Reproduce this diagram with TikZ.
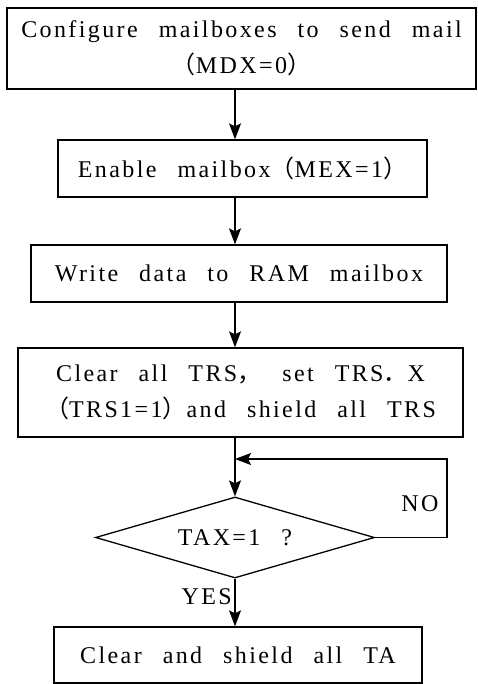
\documentclass[tikz,border=0pt]{standalone}
\usepackage{fontspec}
\setmainfont{Liberation Serif}[LetterSpace=10,WordSpace=2.5]
\newfontfamily\cjk{Noto Sans CJK SC}
\usetikzlibrary{calc}
\usetikzlibrary{arrows.meta}
\usetikzlibrary{shapes.geometric}

\newcommand{\fw}[1]{{\cjk #1}}

\tikzset{
  flowbox/.style={draw, line width=1.3pt, inner sep=0pt, align=center,
    font=\fontsize{24}{36}\selectfont},
  flowarrow/.style={line width=1.3pt, -{Stealth[length=16pt,width=12pt,inset=3pt]}},
  tag/.style={inner sep=0pt, font=\fontsize{24}{28}\selectfont}
}

\begin{document}
\begin{tikzpicture}[x=1pt, y=-1pt]
    \useasboundingbox (0,0) rectangle (477,684);

    % Define the column the arrows run along
    \coordinate (spine) at (235, 0);
    \coordinate (loopcorner) at (447, 459);

    % Draw the steps
    \node[flowbox, minimum width=469, minimum height=81] (config) at (241.5, 48.5)
      {Configure mailboxes to send mail\\\fw{（}MDX=0\fw{）}};
    \node[flowbox, minimum width=369, minimum height=57] (enable) at (242.5, 168.5)
      {Enable mailbox\fw{（}MEX=1\fw{）}};
    \node[flowbox, minimum width=416, minimum height=57] (write) at (239, 273.5)
      {Write data to RAM mailbox};
    \node[flowbox, minimum width=445, minimum height=89] (clear) at (240.5, 392.5)
      {Clear all TRS\fw{，} set TRS\fw{．}X\\\fw{（}TRS1=1\fw{）}and shield all TRS};
    \node[flowbox, diamond, aspect=3.44, minimum width=279, minimum height=81] (check) at (235, 537.5)
      {TAX=1 ?};
    \node[flowbox, minimum width=368, minimum height=56] (shield) at (238, 655)
      {Clear and shield all TA};

    % Connect the steps
    \draw[flowarrow] (config.south -| spine) -- (enable.north -| spine);
    \draw[flowarrow] (enable.south -| spine) -- (write.north -| spine);
    \draw[flowarrow] (write.south -| spine) -- (clear.north -| spine);
    \draw[flowarrow] (clear.south -| spine) -- (check.north);
    \draw[flowarrow] (check.south) -- (shield.north -| spine);

    % Loop back while waiting
    \draw[flowarrow] (check.east) -- (check.east -| loopcorner) -- (loopcorner) -- (loopcorner -| spine);

    % Label the branches
    \node[tag] at (420, 503.5) {NO};
    \node[tag, anchor=east] at (232, 596.5) {YES};
\end{tikzpicture}
\end{document}
